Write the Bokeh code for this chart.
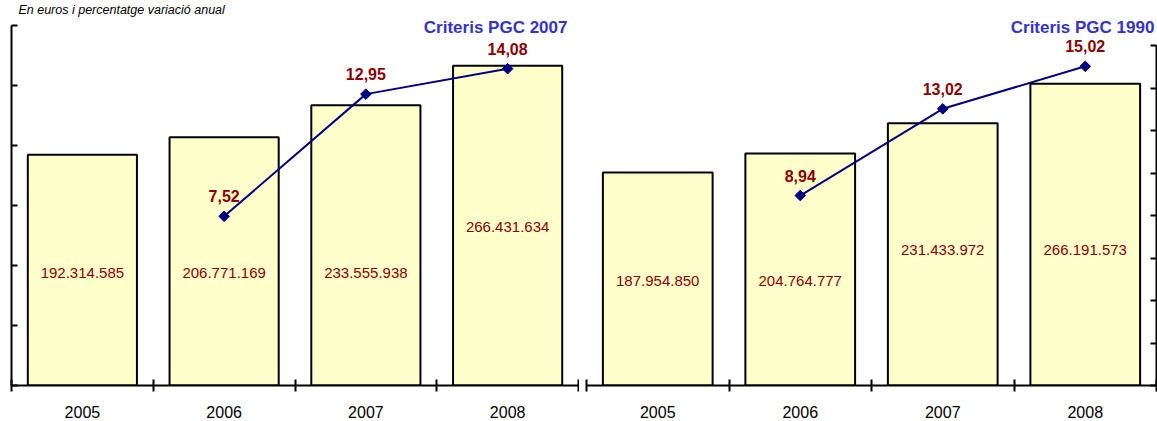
from bokeh.plotting import figure
from bokeh.models import Range1d, LinearAxis, FixedTicker, ColumnDataSource, LabelSet
from bokeh.layouts import row
from bokeh.embed import file_html
from bokeh.resources import INLINE
from bokeh.core.properties import value

years = ["2005", "2006", "2007", "2008"]
pgc2007_values = [192314585, 206771169, 233555938, 266431634]
pgc2007_pct = [None, 7.52, 12.95, 14.08]
pgc1990_values = [187954850, 204764777, 231433972, 266191573]
pgc1990_pct = [None, 8.94, 13.02, 15.02]
subtitle = "En euros i percentatge variació anual"
title_2007 = "Criteris PGC 2007"
title_1990 = "Criteris PGC 1990"

# axis extents (value axes)
bar_max = 300e6
pct_max = 16

# placement of the value labels inside the bars (data units, euros)
label_pos_2007 = [94e6, 94e6, 94e6, 132e6]
label_pos_1990 = [92e6, 92e6, 120e6, 120e6]

FONT = "Liberation Sans"
BAR_FILL = "#FFFFCC"
LINE_COL = "#000080"
RED = "#8B0000"
BLUE = "#3333CC"
H = 421
BOTTOM = 36

centers = [i + 0.5 for i in range(len(years))]
bounds = list(range(len(years) + 1))


def fmt_eur(v):
    return f"{v:,}".replace(",", ".")


def fmt_pct(p):
    return f"{p:.2f}".replace(".", ",")


def panel(values, pct, label_pos, width, axis_px, side, bl, br):
    # axis_px: pixel height of the value axes (0..max); frame extends above it
    frame_h = H - BOTTOM
    k = frame_h / axis_px
    bars_rng = Range1d(0, bar_max * k)
    pct_rng = Range1d(0, pct_max * k)
    main = bars_rng if side == "left" else pct_rng
    other = pct_rng if side == "left" else bars_rng
    p = figure(width=width, height=H, x_range=Range1d(0, 4), y_range=main,
               output_backend="svg", toolbar_location=None, title=None,
               x_axis_type=None, y_axis_type=None,
               min_border_left=bl, min_border_right=br,
               min_border_top=0, min_border_bottom=BOTTOM)
    p.extra_y_ranges = {"other": other}
    bar_rn = "default" if side == "left" else "other"
    pct_rn = "other" if side == "left" else "default"
    p.outline_line_color = None
    p.xgrid.visible = False
    p.ygrid.visible = False

    src = ColumnDataSource(dict(x=centers, top=values,
                                lab=[fmt_eur(v) for v in values], ly=label_pos))
    p.vbar(x="x", top="top", bottom=0, width=0.77, source=src,
           fill_color=BAR_FILL, line_color="black", line_width=2, y_range_name=bar_rn)
    p.add_layout(LabelSet(x="x", y="ly", text="lab", source=src, y_range_name=bar_rn,
                          text_align="center", text_baseline="middle",
                          text_font=value(FONT), text_font_size="15px", text_color=RED))

    px = [c for c, v in zip(centers, pct) if v is not None]
    py = [v for v in pct if v is not None]
    psrc = ColumnDataSource(dict(x=px, y=py, lab=[fmt_pct(v) for v in py]))
    p.line(x="x", y="y", source=psrc, line_color=LINE_COL, line_width=2, y_range_name=pct_rn)
    p.scatter(x="x", y="y", source=psrc, marker="square", angle=0.785398, size=7.5,
              fill_color=LINE_COL, line_color=LINE_COL, y_range_name=pct_rn)
    p.add_layout(LabelSet(x="x", y="y", text="lab", source=psrc, y_range_name=pct_rn,
                          text_align="center", text_baseline="alphabetic", y_offset=14,
                          text_font=value(FONT), text_font_size="16px",
                          text_font_style="bold", text_color=RED))

    xaxis = LinearAxis(ticker=FixedTicker(ticks=centers, minor_ticks=bounds),
                       major_label_overrides={c: y for c, y in zip(centers, years)},
                       major_tick_in=0, major_tick_out=0,
                       minor_tick_in=6, minor_tick_out=6,
                       minor_tick_line_width=2, minor_tick_line_color="black",
                       axis_line_width=2, axis_line_color="black",
                       major_label_standoff=14,
                       major_label_text_font=FONT, major_label_text_font_size="16px",
                       major_label_text_color="black")
    p.add_layout(xaxis, "below")

    if side == "left":
        ticks = [i * bar_max / 6 for i in range(7)]
        bnd = (0, bar_max)
    else:
        ticks = [i * pct_max / 8 for i in range(9)]
        bnd = (0, pct_max)
    yaxis = LinearAxis(ticker=FixedTicker(ticks=ticks), bounds=bnd,
                       major_label_overrides={t: "" for t in ticks},
                       major_tick_in=6, major_tick_out=0, major_tick_line_width=2,
                       minor_tick_line_color=None, axis_line_width=2,
                       major_label_standoff=0)
    p.add_layout(yaxis, side)
    return p, pct_rn


p1, rn1 = panel(pgc2007_values, pgc2007_pct, label_pos_2007, 579, 360, "left", 11, 1)
p2, rn2 = panel(pgc1990_values, pgc1990_pct, label_pos_1990, 578, 340, "right", 7, 1)

p1.text(x=[0.049], y=[16.7], text=[subtitle], y_range_name=rn1,
        text_font=value(FONT), text_font_size="12.5px", text_font_style="italic",
        text_color="black", text_baseline="alphabetic", text_align="left")
p1.text(x=[3.922], y=[15.93], text=[title_2007], y_range_name=rn1,
        text_font=value(FONT), text_font_size="17px", text_font_style="bold",
        text_color=BLUE, text_baseline="alphabetic", text_align="right")
p2.text(x=[3.985], y=[16.87], text=[title_1990], y_range_name=rn2,
        text_font=value(FONT), text_font_size="17px", text_font_style="bold",
        text_color=BLUE, text_baseline="alphabetic", text_align="right")

layout = row(p1, p2, spacing=0)
open("out.html", "w").write(file_html(layout, INLINE))
